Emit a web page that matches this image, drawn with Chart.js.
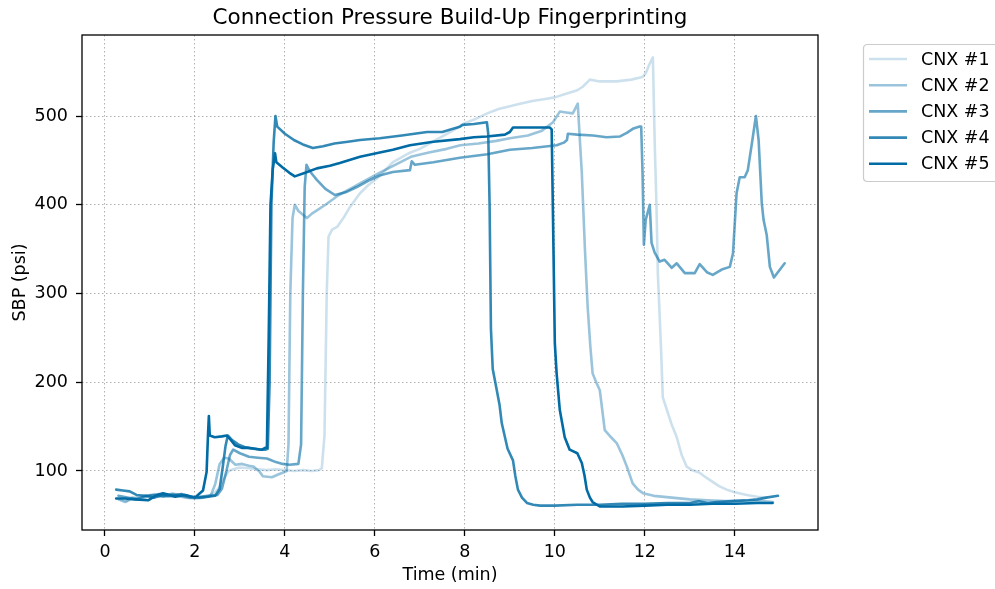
<!DOCTYPE html>
<html>
<head>
<meta charset="utf-8">
<title>Connection Pressure Build-Up Fingerprinting</title>
<script src="https://cdn.jsdelivr.net/npm/chart.js@4/dist/chart.umd.min.js"></script>
<style>
  html, body { margin: 0; padding: 0; background: #ffffff; }
  #wrap { width: 995px; height: 589px; }
</style>
</head>
<body>
<div id="wrap"><canvas id="chart" width="995" height="589"></canvas></div>
<script>
// ---- data: time (min) and surface back-pressure (psi) per connection ----
const seriesNames = ['CNX #1', 'CNX #2', 'CNX #3', 'CNX #4', 'CNX #5'];

const cnx1Time = [0.35,0.5,0.7,0.9,1.1,1.3,1.5,1.7,1.9,2.1,2.3,2.45,2.55,2.65,2.75,2.85,3.0,3.2,3.4,3.6,3.8,4.0,4.2,4.4,4.6,4.75,4.82,4.88,4.93,4.97,5.05,5.16,5.3,5.44,5.67,5.85,6.1,6.4,6.75,7.0,7.25,7.5,7.75,8.0,8.25,8.5,8.75,9.0,9.25,9.5,9.75,10.0,10.25,10.5,10.62,10.78,11.0,11.38,11.7,11.95,12.02,12.1,12.18,12.22,12.26,12.29,12.36,12.4,12.49,12.6,12.71,12.82,12.93,13.05,13.22,13.35,13.5,13.65,13.82,14.0,14.27,14.5,14.7];
const cnx1Sbp  = [68,66,70,72,74,72,75,73,71,70,72,76,82,92,100,102,104,103,102,101,102,101,100,101,100,101,103,140,300,364,372,375,385,397,413,422,432,448,458,463,470,477,484,492,497,503,508,511,514,517,519,521,525,529,533,541,539,539,541,544,548,558,566,470,398,323,239,183,169,152,138,118,105,101,98,93,88,83,79,76,73,71,70];

const cnx2Time = [0.3,0.45,0.6,0.8,1.0,1.2,1.4,1.6,1.8,2.0,2.2,2.35,2.45,2.55,2.65,2.75,2.9,3.05,3.2,3.3,3.44,3.51,3.71,3.85,3.95,4.04,4.08,4.12,4.17,4.22,4.3,4.49,4.6,4.72,4.9,5.2,5.45,5.7,6.1,6.45,6.8,7.2,7.6,7.9,8.3,8.7,9.0,9.4,9.7,9.96,10.11,10.25,10.4,10.51,10.56,10.6,10.67,10.73,10.79,10.84,10.92,11.0,11.11,11.25,11.38,11.5,11.6,11.73,11.85,11.96,12.2,12.6,13.0,13.4,13.8,14.2,14.6,14.85];
const cnx2Sbp  = [68,65,70,69,72,74,71,72,70,69,70,72,85,108,115,114,107,108,106,105,99,94,93,96,98,100,130,300,385,400,393,385,390,394,400,411,418,425,436,445,454,459,463,467,469,472,475,478,483,493,505,504,503,514,470,436,349,285,240,210,200,191,146,138,131,118,105,86,79,75,72,70,68,67,66,67,66,65];

const cnx3Time = [0.3,0.5,0.7,0.9,1.1,1.3,1.5,1.7,1.9,2.1,2.3,2.5,2.6,2.7,2.78,2.85,3.0,3.2,3.4,3.6,3.8,3.95,4.1,4.3,4.36,4.4,4.44,4.48,4.55,4.71,4.9,5.11,5.35,5.6,5.85,6.1,6.4,6.78,6.82,6.89,7.3,7.89,8.5,9.0,9.5,10.04,10.2,10.27,10.29,10.5,10.85,11.15,11.45,11.6,11.75,11.87,11.92,11.95,11.98,12.02,12.11,12.15,12.22,12.33,12.44,12.6,12.71,12.89,13.11,13.22,13.38,13.51,13.71,13.89,13.96,14.04,14.11,14.22,14.29,14.38,14.47,14.53,14.6,14.64,14.71,14.78,14.87,15.11];
const cnx3Sbp  = [72,70,68,72,73,71,74,72,70,71,72,73,80,100,118,124,120,116,115,114,110,108,107,108,130,300,420,445,438,428,418,411,414,420,427,433,437,439,449,445,448,453,457,462,464,467,470,473,480,479,478,476,477,481,486,488,488,436,355,383,400,357,346,336,338,329,334,323,323,333,324,321,327,330,345,413,431,431,439,469,500,473,402,383,366,330,318,334];

const cnx4Time = [0.25,0.4,0.55,0.7,0.9,1.1,1.3,1.5,1.7,1.9,2.1,2.3,2.45,2.55,2.62,2.68,2.73,2.82,2.96,3.1,3.3,3.45,3.56,3.62,3.66,3.7,3.75,3.79,3.83,4.0,4.2,4.4,4.62,4.85,5.1,5.4,5.67,6.11,6.6,7.16,7.5,7.7,7.89,7.95,8.2,8.49,8.52,8.55,8.58,8.62,8.71,8.77,8.82,8.95,9.07,9.12,9.18,9.27,9.38,9.52,9.67,10.0,10.5,11.0,11.5,12.0,12.5,13.0,13.2,13.4,13.6,14.0,14.3,14.5,14.7,14.96];
const cnx4Sbp  = [79,78,77,73,72,70,73,72,74,71,70,71,72,80,105,128,140,135,130,127,125,124,124,125,200,400,470,500,488,480,473,468,464,466,469,471,473,475,478,482,482,485,488,490,491,493,480,400,260,215,191,175,154,125,112,95,79,70,64,62,61,61,62,62,63,63,64,64,66,64,65,66,67,68,70,72];

const cnx5Time = [0.25,0.45,0.67,0.96,1.16,1.29,1.45,1.56,1.78,2.0,2.11,2.18,2.26,2.29,2.31,2.33,2.44,2.6,2.71,2.78,2.89,3.04,3.18,3.35,3.49,3.56,3.6,3.64,3.68,3.73,3.78,3.81,3.95,4.1,4.22,4.45,4.71,5.0,5.22,5.67,6.11,6.4,6.78,7.3,7.89,8.2,8.49,8.89,9.0,9.07,9.5,9.89,9.93,9.97,10.0,10.04,10.11,10.22,10.33,10.5,10.6,10.66,10.71,10.78,10.84,11.0,11.5,12.0,12.5,13.0,13.5,14.0,14.5,14.84];
const cnx5Sbp  = [69,69,68,67,73,75,73,71,73,70,75,78,99,140,162,140,138,139,140,136,129,126,126,125,124,126,126,250,400,440,458,448,442,436,432,436,441,444,447,454,459,462,467,471,474,476,477,479,482,487,487,487,485,350,244,210,169,138,124,120,109,95,79,70,65,60,60,61,62,62,63,63,64,64];

const xTickValues = [0, 2, 4, 6, 8, 10, 12, 14];
const yTickValues = [100, 200, 300, 400, 500];

// ---- styling ----
const FONT = "'DejaVu Sans', 'Liberation Sans', sans-serif";
const LABEL_SIZE = 17.5;
const BASE_RGB = '0, 107, 164';
const alphas = [0.2, 0.4, 0.6, 0.8, 1.0];
const seriesColor = i => `rgba(${BASE_RGB}, ${alphas[i]})`;
const LINE_WIDTH = 2.6;

const times = [cnx1Time, cnx2Time, cnx3Time, cnx4Time, cnx5Time];
const values = [cnx1Sbp, cnx2Sbp, cnx3Sbp, cnx4Sbp, cnx5Sbp];

const datasets = seriesNames.map((name, i) => ({
  label: name,
  data: times[i].map((t, k) => ({ x: t, y: values[i][k] })),
  borderColor: seriesColor(i),
  backgroundColor: seriesColor(i),
  borderWidth: LINE_WIDTH,
  borderJoinStyle: 'round',
  borderCapStyle: 'round',
  pointRadius: 0,
  pointHoverRadius: 0,
  showLine: true,
  fill: false,
  tension: 0,
  order: seriesNames.length - i   // later connections are drawn on top
}));

// frame, title and legend drawn around the plot area
const decorations = {
  id: 'decorations',
  afterDraw(chart) {
    const { ctx, chartArea: a } = chart;
    ctx.save();

    // axes frame (all four sides)
    ctx.strokeStyle = '#000000';
    ctx.lineWidth = 1.3;
    ctx.strokeRect(a.left, a.top, a.right - a.left, a.bottom - a.top);

    // title
    ctx.fillStyle = '#000000';
    ctx.font = `21.5px ${FONT}`;
    ctx.textAlign = 'center';
    ctx.textBaseline = 'middle';
    ctx.fillText('Connection Pressure Build-Up Fingerprinting', (a.left + a.right) / 2, 18);

    // legend box
    const bx = 863.5, by = 44.5, bw = 150, bh = 137, r = 4;
    ctx.beginPath();
    ctx.moveTo(bx + r, by);
    ctx.lineTo(bx + bw - r, by);
    ctx.quadraticCurveTo(bx + bw, by, bx + bw, by + r);
    ctx.lineTo(bx + bw, by + bh - r);
    ctx.quadraticCurveTo(bx + bw, by + bh, bx + bw - r, by + bh);
    ctx.lineTo(bx + r, by + bh);
    ctx.quadraticCurveTo(bx, by + bh, bx, by + bh - r);
    ctx.lineTo(bx, by + r);
    ctx.quadraticCurveTo(bx, by, bx + r, by);
    ctx.closePath();
    ctx.fillStyle = 'rgba(255,255,255,0.8)';
    ctx.fill();
    ctx.strokeStyle = '#cccccc';
    ctx.lineWidth = 1.2;
    ctx.stroke();

    ctx.font = `${LABEL_SIZE}px ${FONT}`;
    ctx.textAlign = 'left';
    ctx.textBaseline = 'middle';
    seriesNames.forEach((name, i) => {
      const y = 59 + i * 26.2;
      ctx.strokeStyle = seriesColor(i);
      ctx.lineWidth = LINE_WIDTH;
      ctx.beginPath();
      ctx.moveTo(869, y);
      ctx.lineTo(907, y);
      ctx.stroke();
      ctx.fillStyle = '#000000';
      ctx.fillText(name, 921, y + 1);
    });

    ctx.restore();
  }
};

const gridCommon = {
  color: 'rgba(150,150,150,0.75)',
  lineWidth: 1,
  drawTicks: true,
  tickLength: 6,
  tickColor: '#000000',
  tickWidth: 1.3,
  tickBorderDash: []
};

new Chart(document.getElementById('chart'), {
  type: 'scatter',
  data: { datasets },
  plugins: [decorations],
  options: {
    responsive: false,
    animation: false,
    devicePixelRatio: 1,
    layout: { padding: { left: 0, right: 177, top: 35, bottom: 0 } },
    plugins: {
      legend: { display: false },
      title: { display: false },
      tooltip: { enabled: false }
    },
    scales: {
      x: {
        type: 'linear',
        min: -0.51,
        max: 15.85,
        afterBuildTicks: axis => { axis.ticks = xTickValues.map(v => ({ value: v })); },
        afterFit: axis => { axis.height = 59; },
        grid: gridCommon,
        border: { display: false, dash: [1.5, 2.5] },
        ticks: {
          color: '#000000',
          padding: 6,
          maxRotation: 0,
          font: { family: FONT, size: LABEL_SIZE }
        },
        title: {
          display: true,
          text: 'Time (min)',
          color: '#000000',
          font: { family: FONT, size: LABEL_SIZE },
          padding: { top: 0, bottom: 3.5 }
        }
      },
      y: {
        type: 'linear',
        min: 33.5,
        max: 591.3,
        afterBuildTicks: axis => { axis.ticks = yTickValues.map(v => ({ value: v })); },
        afterFit: axis => { axis.width = 82; },
        grid: gridCommon,
        border: { display: false, dash: [1.5, 2.5] },
        ticks: {
          color: '#000000',
          padding: 8,
          font: { family: FONT, size: LABEL_SIZE }
        },
        title: {
          display: true,
          text: 'SBP (psi)',
          color: '#000000',
          font: { family: FONT, size: LABEL_SIZE },
          padding: { top: 9.5, bottom: 0 }
        }
      }
    }
  }
});
</script>
</body>
</html>
